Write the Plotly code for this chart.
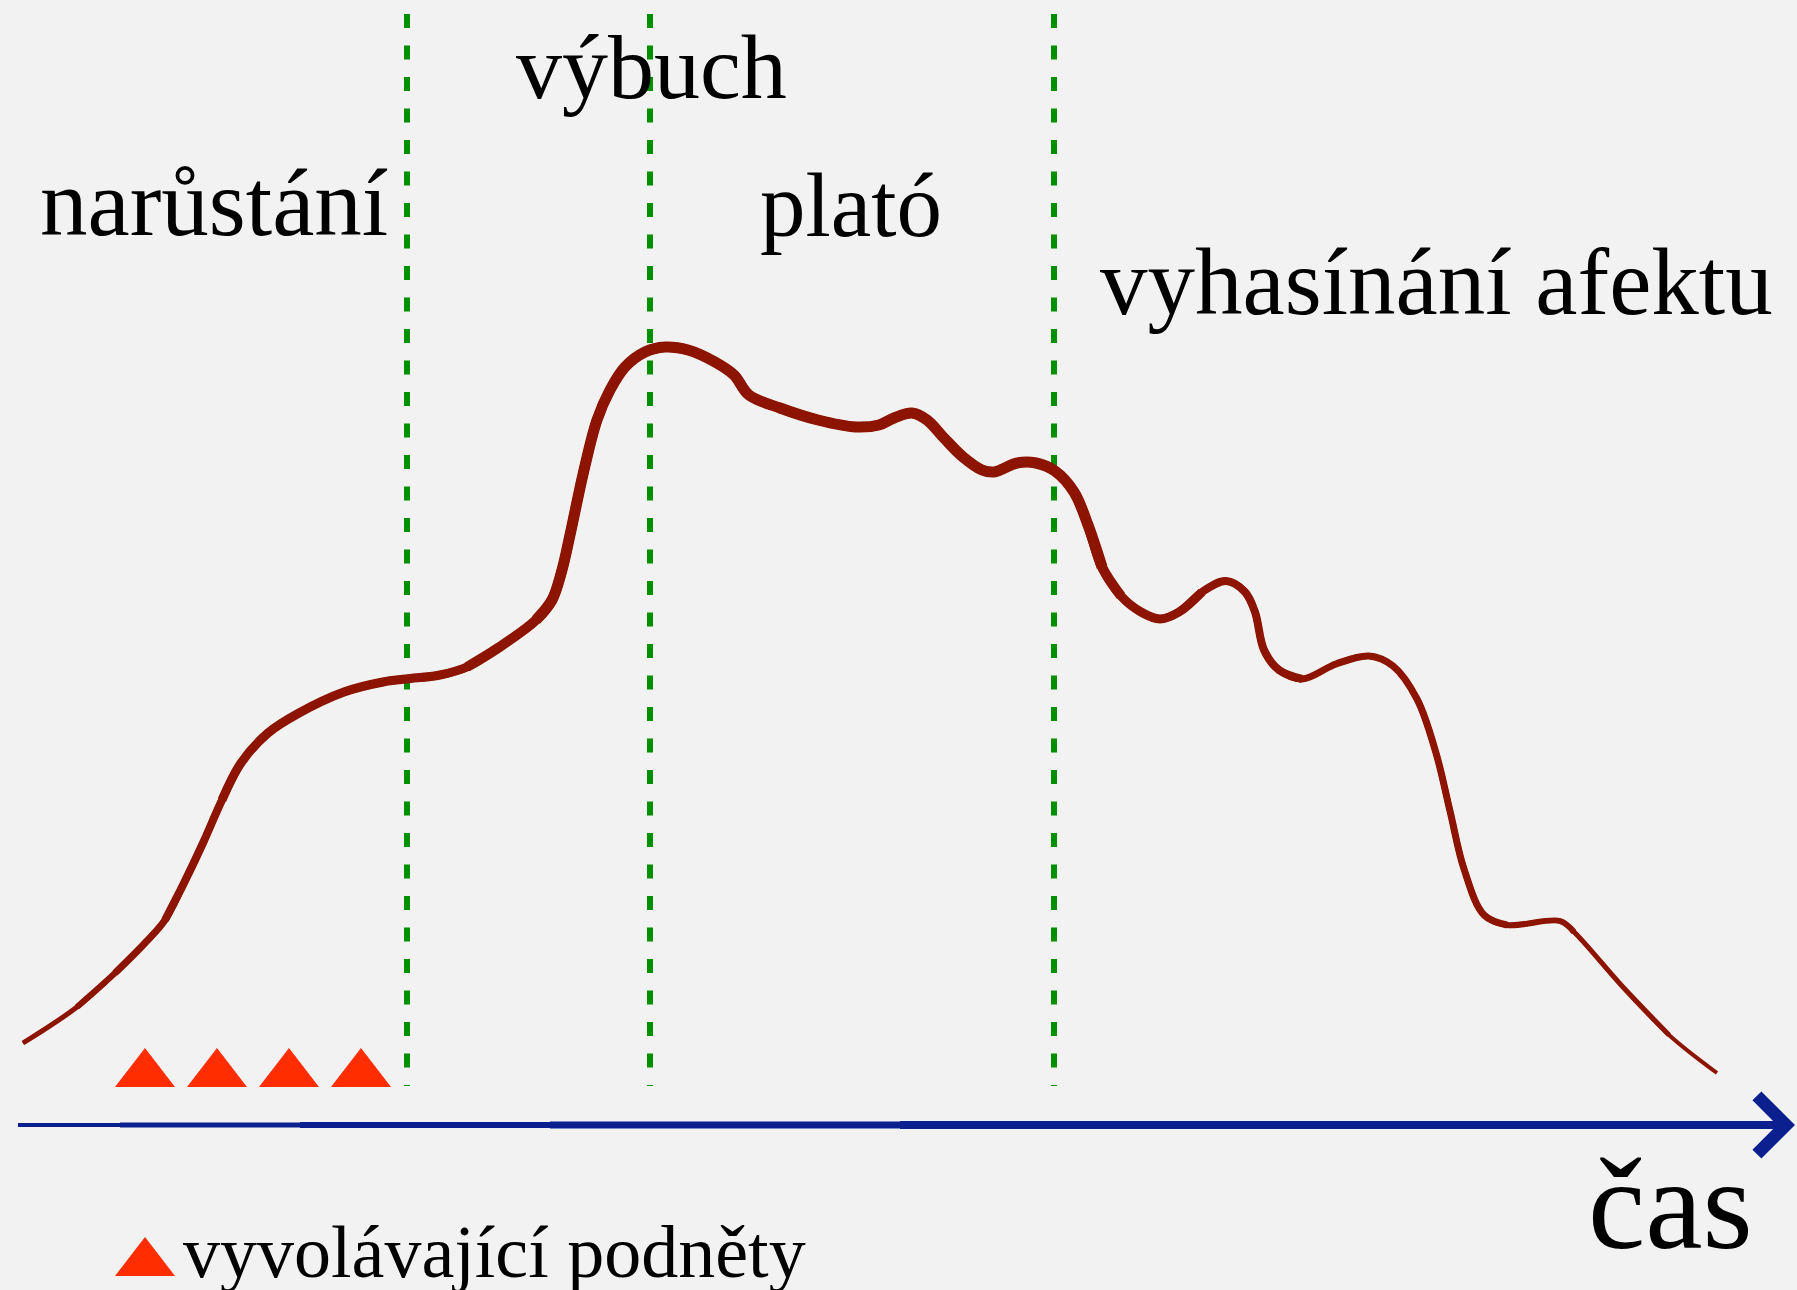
import plotly.graph_objects as go

# hand-drawn emotion curve (time along the page, intensity upwards)
time = [23, 77, 115, 145, 165, 184, 203, 222, 241, 268, 299, 344, 383, 406, 440, 467,
        498, 536, 552, 562, 570, 584, 597, 610, 625, 645, 665, 688, 715, 734, 749, 780,
        818, 856, 879, 894, 912, 927, 944, 963, 982, 994, 1017, 1036, 1055, 1074, 1088,
        1102, 1121, 1141, 1160, 1179, 1202, 1226, 1245, 1255, 1264, 1279, 1302, 1336,
        1369, 1393, 1417, 1436, 1450, 1464, 1484, 1507, 1560, 1574, 1622, 1669, 1717]
intensity = [247, 283, 317, 347, 370, 407, 447, 490, 527, 557, 577, 598, 608, 611, 615, 623,
             642, 670, 690, 720, 755, 820, 870, 900, 923, 938, 943, 940, 928, 915, 895, 882,
             870, 863, 865, 872, 877, 870, 852, 833, 820, 818, 827, 827, 819, 798, 765,
             723, 694, 678, 671, 678, 698, 709, 698, 678, 640, 620, 611, 626,
             634, 624, 591, 537, 479, 421, 375, 365, 369, 358, 304, 255, 217]

# phase boundaries (green dashed lines)
phase_bounds = [407, 650, 1054]
phase_top = 1276
phase_bottom = 204

# triggering stimuli (red triangles)
trigger_time = [145, 217, 289, 361]
trigger_level = [216, 216, 216, 216]

phase_labels = ["narůstání", "výbuch", "plató", "vyhasínání afektu"]
legend_label = "vyvolávající podněty"
axis_label = "čas"

axis_start = 18
axis_end = 1795
axis_level = 165

W, H = 1797, 1290
BG = "#f2f2f2"
RED = "#8c1400"
GREEN = "#009000"
BLUE = "#0b1f8f"
TRI = "#ff2d00"
FONT = "Liberation Serif, Times New Roman, serif"

fig = go.Figure()

# phase separators
for b in phase_bounds:
    fig.add_trace(go.Scatter(x=[b, b], y=[phase_top, phase_bottom], mode="lines",
                             line=dict(color=GREEN, width=6, dash="14px,17.5px"),
                             hoverinfo="skip", showlegend=False))


# curve: thin stroke overall, getting thicker towards the middle like a brush
def part(lo, hi):
    idx = [i for i, t in enumerate(time) if lo <= t <= hi]
    i0 = max(idx[0] - 1, 0)
    i1 = min(idx[-1] + 1, len(time) - 1)
    return time[i0:i1 + 1], intensity[i0:i1 + 1]


brush = [(0, 2000, 4), (60, 1640, 5), (100, 1570, 6), (140, 1490, 7),
         (175, 1300, 8), (230, 1200, 9), (480, 1120, 10), (540, 1100, 11)]
for lo, hi, w in brush:
    xs, ys = part(lo, hi)
    fig.add_trace(go.Scatter(x=xs, y=ys, mode="lines",
                             line=dict(color=RED, width=w, shape="spline", smoothing=1),
                             hoverinfo="skip", showlegend=False))

# time axis shaft, thin on the left, thicker to the right
for start, w in [(axis_start, 4), (120, 5), (300, 6), (550, 7), (900, 8)]:
    fig.add_trace(go.Scatter(x=[start, axis_end - 20], y=[axis_level, axis_level], mode="lines",
                             line=dict(color=BLUE, width=w), hoverinfo="skip", showlegend=False))

# triggers
fig.add_trace(go.Scatter(x=trigger_time, y=trigger_level, mode="markers",
                         marker=dict(symbol="triangle-up", size=52, color=TRI, line=dict(width=0)),
                         hoverinfo="skip", showlegend=False))
# legend glyph
fig.add_trace(go.Scatter(x=[145], y=[27], mode="markers",
                         marker=dict(symbol="triangle-up", size=52, color=TRI, line=dict(width=0)),
                         hoverinfo="skip", showlegend=False))

annotations = []
label_pos = [(214, 1087, 95), (651, 1223, 92), (851, 1085, 91), (1436, 1008, 95)]
for txt, (x, y, s) in zip(phase_labels, label_pos):
    annotations.append(dict(x=x, y=y, xref="x", yref="y", text=txt, showarrow=False,
                            xanchor="center", yanchor="middle",
                            font=dict(family=FONT, size=s, color="black")))
annotations.append(dict(x=1670, y=86, xref="x", yref="y", text=axis_label, showarrow=False,
                        xanchor="center", yanchor="middle",
                        font=dict(family=FONT, size=129, color="black")))
annotations.append(dict(x=181, y=38, xref="x", yref="y", text=legend_label, showarrow=False,
                        xanchor="left", yanchor="middle",
                        font=dict(family=FONT, size=74, color="black")))
# arrow head
annotations.append(dict(x=axis_end, y=axis_level, ax=axis_end - 60, ay=axis_level,
                        xref="x", yref="y", axref="x", ayref="y", text="", showarrow=True,
                        arrowhead=4, arrowsize=1.4, arrowwidth=8, arrowcolor=BLUE))

fig.update_layout(
    width=W, height=H, margin=dict(l=0, r=0, t=0, b=0),
    paper_bgcolor=BG, plot_bgcolor=BG,
    xaxis=dict(range=[0, W], visible=False, fixedrange=True),
    yaxis=dict(range=[0, H], visible=False, fixedrange=True),
    annotations=annotations,
)

fig.write_html("out.html", config={"displayModeBar": False},
               post_script="document.body.style.margin='0';")
